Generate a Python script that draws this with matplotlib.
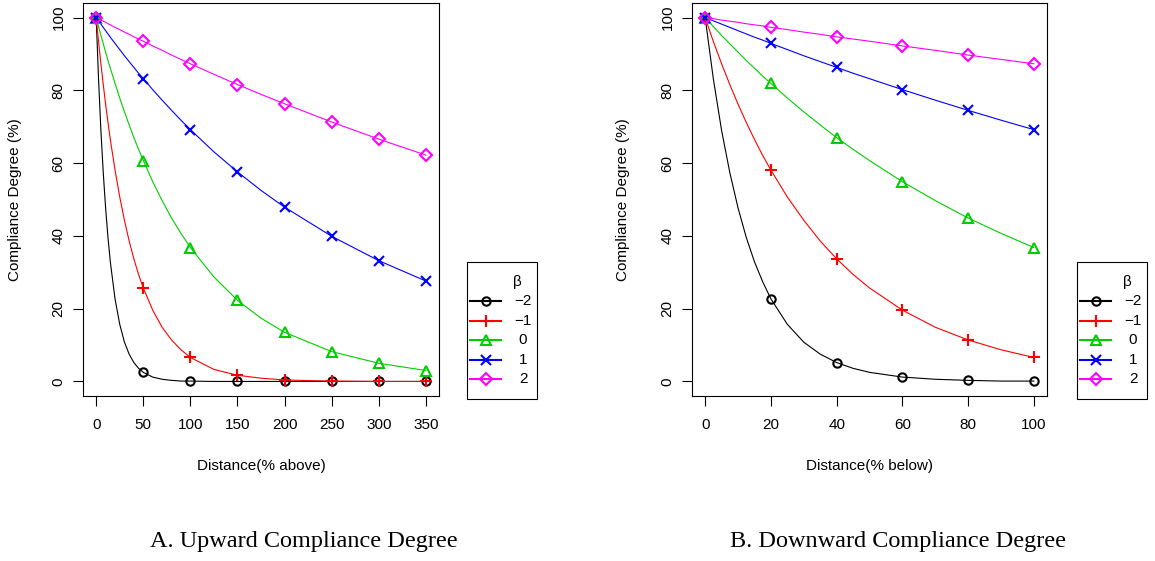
import numpy as np
import matplotlib.pyplot as plt
from matplotlib.lines import Line2D
from matplotlib.patches import Rectangle

plt.rcParams['font.family'] = ['Liberation Sans', 'DejaVu Sans']

# legend entries (beta) and R-style styling
betas = ['\u22122', '\u22121', '0', '1', '2']
colors = ['#000000', '#FF0000', '#00CD00', '#0000FF', '#FF00FF']
markers = ['o', '+', '^', 'x', 'D']
msizes = [6, 8.5, 6.5, 6.5, 5.8]

# upward: distance (% above) and compliance degree (%)
up_x = [0, 2.5, 5, 7.5, 10, 12.5, 15, 20, 25, 30, 35, 40, 45, 50, 60, 70, 80, 90, 100,
        125, 150, 175, 200, 250, 300, 350]
up_m2 = [100, 83.1, 69.0, 57.4, 47.7, 39.6, 32.9, 22.7, 15.7, 10.8, 7.5, 5.2, 3.6, 2.5,
         1.2, 0.6, 0.3, 0.1, 0.1, 0.0, 0.0, 0.0, 0.0, 0.0, 0.0, 0.0]
up_m1 = [100, 93.4, 87.3, 81.6, 76.2, 71.2, 66.5, 58.1, 50.7, 44.3, 38.6, 33.7, 29.4, 25.7,
         19.6, 14.9, 11.4, 8.7, 6.6, 3.3, 1.7, 0.9, 0.4, 0.1, 0.0, 0.0]
up_0 = [100, 97.5, 95.1, 92.8, 90.5, 88.2, 86.1, 81.9, 77.9, 74.1, 70.5, 67.0, 63.8, 60.7,
        54.9, 49.7, 44.9, 40.7, 36.8, 28.7, 22.3, 17.4, 13.5, 8.2, 5.0, 3.0]
up_p1 = [100, 99.1, 98.2, 97.3, 96.4, 95.5, 94.6, 92.9, 91.2, 89.5, 87.9, 86.3, 84.7, 83.2,
         80.2, 77.3, 74.5, 71.8, 69.2, 63.1, 57.6, 52.5, 47.9, 39.9, 33.2, 27.6]
up_p2 = [100, 99.7, 99.3, 99.0, 98.7, 98.3, 98.0, 97.3, 96.7, 96.0, 95.4, 94.7, 94.1, 93.5,
         92.2, 91.0, 89.7, 88.5, 87.3, 84.4, 81.6, 78.9, 76.3, 71.3, 66.6, 62.2]
up_marker_x = [0, 50, 100, 150, 200, 250, 300, 350]
up_ticks = [0, 50, 100, 150, 200, 250, 300, 350]

# downward: distance (% below)
down_x = [0, 2.5, 5, 7.5, 10, 12.5, 15, 17.5, 20, 25, 30, 35, 40, 45, 50,
          60, 70, 80, 90, 100]
down_m2 = [100, 83.1, 69.0, 57.4, 47.7, 39.6, 32.9, 27.4, 22.7, 15.7, 10.8, 7.5, 5.2, 3.6,
           2.5, 1.2, 0.6, 0.3, 0.1, 0.1]
down_m1 = [100, 93.4, 87.3, 81.6, 76.2, 71.2, 66.5, 62.1, 58.1, 50.7, 44.3, 38.6, 33.7, 29.4,
           25.7, 19.6, 14.9, 11.4, 8.7, 6.6]
down_0 = [100, 97.5, 95.1, 92.8, 90.5, 88.2, 86.1, 83.9, 81.9, 77.9, 74.1, 70.5, 67.0, 63.8,
          60.7, 54.9, 49.7, 44.9, 40.7, 36.8]
down_p1 = [100, 99.1, 98.2, 97.3, 96.4, 95.5, 94.6, 93.8, 92.9, 91.2, 89.5, 87.9, 86.3, 84.7,
           83.2, 80.2, 77.3, 74.5, 71.8, 69.2]
down_p2 = [100, 99.7, 99.3, 99.0, 98.7, 98.3, 98.0, 97.7, 97.3, 96.7, 96.0, 95.4, 94.7, 94.1,
           93.5, 92.2, 91.0, 89.7, 88.5, 87.3]
down_marker_x = [0, 20, 40, 60, 80, 100]
down_ticks = [0, 20, 40, 60, 80, 100]

y_ticks = [0, 20, 40, 60, 80, 100]

W, H = 1155, 561
fig = plt.figure(figsize=(W / 100, H / 100), dpi=100)


def fx(px):
    return px / W


def fy(py):
    return 1 - py / H


panels = [
    dict(box=(83, 3, 439, 396), x=up_x, ys=[up_m2, up_m1, up_0, up_p1, up_p2],
         mx=up_marker_x, ticks=up_ticks, xlim=(-14, 364),
         xlabel='Distance(% above)', caption='A. Upward Compliance Degree', cap_x=304,
         ylab_x=15, leg_left=467),
    dict(box=(692, 3, 1047, 396), x=down_x, ys=[down_m2, down_m1, down_0, down_p1, down_p2],
         mx=down_marker_x, ticks=down_ticks, xlim=(-4, 104),
         xlabel='Distance(% below)', caption='B. Downward Compliance Degree', cap_x=898,
         ylab_x=623, leg_left=1077),
]

for p in panels:
    l, t, r, b = p['box']
    ax = fig.add_axes([fx(l), fy(b), (r - l) / W, (b - t) / H])
    x = np.array(p['x'], dtype=float)
    mask = np.isin(x, p['mx'])
    for y, c in zip(p['ys'], colors):
        ax.plot(x, y, color=c, lw=0.8)
    for y, c, m, ms in zip(p['ys'], colors, markers, msizes):
        y = np.array(y)
        ax.plot(x[mask], y[mask], ls='none', marker=m, ms=ms, mfc='none',
                mec=c, mew=1.5)
    ax.set_xlim(*p['xlim'])
    ax.set_ylim(-4, 104)
    ax.set_xticks(p['ticks'])
    ax.set_yticks(y_ticks)
    ax.tick_params(length=7.5, width=0.8, labelsize=11)
    ax.tick_params(axis='x', pad=8)
    ax.tick_params(axis='y', pad=5)
    for lab in ax.get_yticklabels():
        lab.set_rotation(90)
        lab.set_va('center')
    for s in ax.spines.values():
        s.set_linewidth(0.8)
    ax.set_xlabel(p['xlabel'], fontsize=11, va='center')
    ax.xaxis.set_label_coords(0.5, (b - 466) / (b - t))
    ax.set_ylabel('Compliance Degree (%)', fontsize=11, va='center')
    ax.yaxis.set_label_coords((p['ylab_x'] - l) / (r - l), 0.5)

    fig.text(fx(p['cap_x']), fy(541), p['caption'], family='Liberation Serif',
             fontsize=17.5, ha='center', va='center')

    # legend box drawn in figure pixels
    ll = p['leg_left']
    fig.patches.append(Rectangle((fx(ll), fy(399)), 70 / W, 137 / H,
                                 transform=fig.transFigure, fill=False,
                                 lw=0.8, ec='black'))
    fig.text(fx(ll + 50), fy(282), '\u03b2', fontsize=11, ha='center', va='center')
    for i, (lab, c, m, ms) in enumerate(zip(betas, colors, markers, msizes)):
        yy = fy(301 + i * 19.6)
        fig.lines.append(Line2D([fx(ll + 3), fx(ll + 34)], [yy, yy],
                                transform=fig.transFigure, color=c, lw=1.5))
        fig.lines.append(Line2D([fx(ll + 18.5)], [yy], transform=fig.transFigure,
                                ls='none', marker=m, ms=ms, mfc='none', mec=c, mew=1.5))
        fig.text(fx(ll + 56), yy, lab, fontsize=11, ha='center', va='center')

fig.savefig('out.png', dpi=100)
